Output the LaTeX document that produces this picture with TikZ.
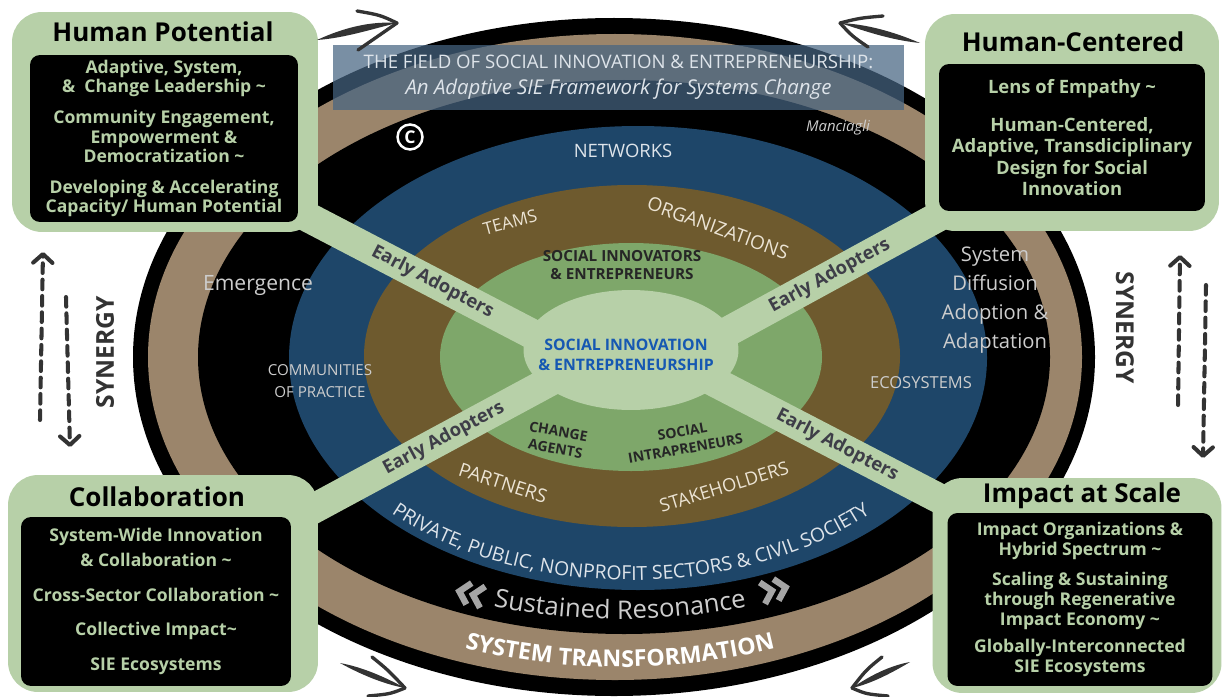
\documentclass[tikz,border=0pt]{standalone}
\usepackage{fontspec}
\setmainfont{Open Sans}
\usetikzlibrary{positioning,shapes.geometric,decorations.text,arrows.meta}

\definecolor{sage}{RGB}{183,208,168}
\definecolor{tanring}{RGB}{155,133,107}
\definecolor{netblue}{RGB}{30,70,105}
\definecolor{orgbrown}{RGB}{110,90,46}
\definecolor{midgreen}{RGB}{126,167,106}
\definecolor{titleblue}{RGB}{70,100,130}
\definecolor{inkgray}{RGB}{51,51,51}
\definecolor{adoptgray}{RGB}{62,62,72}
\definecolor{sieblue}{RGB}{22,88,178}
\definecolor{lighttext}{RGB}{222,228,234}
\definecolor{creamtext}{RGB}{236,228,212}
\definecolor{greytext}{RGB}{205,205,205}
\definecolor{chevron}{RGB}{165,165,165}

\tikzset{
  outerbox/.style={fill=sage, rounded corners=0.6cm, inner sep=0pt},
  innerbox/.style={fill=black, rounded corners=0.2cm, inner sep=0pt, align=center,
    text=sage, font=\fontsize{10}{11}\selectfont\bfseries},
  boxtitle/.style={font=\fontsize{14.8}{17}\selectfont\bfseries, text=black},
  ringlabel/.style={font=\fontsize{10.8}{12}\selectfont, text=creamtext},
  innerlabel/.style={font=\fontsize{8.7}{10.4}\selectfont\bfseries, text=black!85, align=center},
  adoptbar/.style={draw=sage, line width=0.6cm},
  adopters/.style={font=\fontsize{10.5}{12}\selectfont\bfseries, text=adoptgray, sloped},
  synergy/.style={font=\fontsize{14}{16}\selectfont\bfseries, text=inkgray},
  dasharrow/.style={draw=inkgray, line width=2.3pt, dash pattern=on 5.5pt off 3.8pt,
    line cap=round, -{Straight Barb[length=5pt,width=11pt,line width=2.3pt,round]}},
  brushbarb/.style={draw=inkgray, line width=1.9pt, line cap=round},
  chevronline/.style={draw=chevron, line width=3.6pt, line join=miter},
}

\begin{document}
\begin{tikzpicture}[x=0.02cm, y=-0.02cm]
\fill[white] (0,0) rectangle (1223,696);
\useasboundingbox (0,0) rectangle (1223,696);

% rings
\fill[black] (614,357) ellipse [x radius=481, y radius=339];
\fill[tanring] (615,357) ellipse [x radius=467, y radius=323];
\fill[black] (624,357) ellipse [x radius=426, y radius=277];
\fill[netblue] (638,358) ellipse [x radius=349, y radius=232];
\fill[orgbrown] (632,356) ellipse [x radius=268, y radius=171];
\fill[midgreen] (631,357) ellipse [x radius=191, y radius=114];

% early adopter bars
\coordinate (upHub) at (630,385);
\coordinate (lowHub) at (630,338);
\coordinate (hpDock) at (250,187);
\coordinate (hcDock) at (1000,183);
\coordinate (collabDock) at (250,543);
\coordinate (impactDock) at (1000,530);
\draw[adoptbar] (hpDock) -- (upHub) node[adopters, pos=0.48] {Early Adopters};
\draw[adoptbar] (hcDock) -- (upHub) node[adopters, pos=0.46] {Early Adopters};
\draw[adoptbar] (collabDock) -- (lowHub) node[adopters, pos=0.51] {Early Adopters};
\draw[adoptbar] (impactDock) -- (lowHub) node[adopters, pos=0.44] {Early Adopters};

\node[ellipse, fill=sage, inner sep=0pt, minimum width=4.3cm, minimum height=2.4cm] (sie) at (631,350) {};
\node[font=\fontsize{9}{11}\selectfont\bfseries, text=sieblue, align=center] (sieText) at (626,355)
  {SOCIAL INNOVATION\\\& ENTREPRENEURSHIP};

% ring labels
\node[ringlabel, text=lighttext, font=\fontsize{10.5}{12}\selectfont] (networks) at (623,151) {NETWORKS};
\node[ringlabel, rotate=15, font=\fontsize{9.8}{11}\selectfont] (teams) at (510,222) {TEAMS};
\node[ringlabel, rotate=-20] (orgs) at (718,228) {ORGANIZATIONS};
\node[ringlabel, rotate=-18] (partners) at (503,483) {PARTNERS};
\node[ringlabel, rotate=17, font=\fontsize{10.4}{12}\selectfont] (stake) at (724,487) {STAKEHOLDERS};
\node[ringlabel, text=greytext, font=\fontsize{8.6}{12.5}\selectfont, align=center] (cop) at (320,381)
  {COMMUNITIES\\OF PRACTICE};
\node[ringlabel, text=greytext, font=\fontsize{9.4}{10}\selectfont] (eco) at (921,383) {ECOSYSTEMS};
\node[ringlabel, text=greytext, font=\fontsize{12}{14}\selectfont] (emerge) at (258,286) {Emergence};
\node[ringlabel, text=greytext, font=\fontsize{11.5}{16.4}\selectfont, align=center] (diffusion) at (995,300)
  {System\\Diffusion\\Adoption \&\\Adaptation};
\node[innerlabel] (sieRing) at (622,265) {SOCIAL INNOVATORS\\\& ENTREPRENEURS};
\node[innerlabel, rotate=-10, font=\fontsize{8}{10}\selectfont\bfseries] (agents) at (557,440) {CHANGE\\AGENTS};
\node[innerlabel, rotate=10, font=\fontsize{8}{10}\selectfont\bfseries] (intra) at (684,440) {SOCIAL\\INTRAPRENEURS};

% curved texts
\path[decorate, decoration={text along path, text align=center,
  text={|\fontsize{11}{13}\selectfont\color{lighttext}|PRIVATE, PUBLIC, NONPROFIT SECTORS {\&} CIVIL SOCIETY}}]
  (631,358) ++(168:335 and 222) arc[start angle=168, end angle=12, x radius=335, y radius=222];
\path[decorate, decoration={text along path, text align=center,
  text={|\fontsize{14.6}{16}\selectfont\color{greytext}|Sustained Resonance}}]
  (620,357) ++(135:420 and 262) arc[start angle=135, end angle=45, x radius=420, y radius=262];
\path[decorate, decoration={text along path, text align=center,
  text={|\fontsize{13.2}{15}\selectfont\bfseries\color{white}|SYSTEM TRANSFORMATION}}]
  (620,357) ++(135:452 and 310) arc[start angle=135, end angle=45, x radius=452, y radius=310];

% resonance chevrons
\begin{scope}[shift={(470,594)}, rotate=-14]
  \draw[chevronline] (-1,-11) -- (-11,0) -- (-1,11);
  \draw[chevronline] (13,-11) -- (3,0) -- (13,11);
\end{scope}
\begin{scope}[shift={(775,590)}, rotate=14]
  \draw[chevronline] (-13,-11) -- (-3,0) -- (-13,11);
  \draw[chevronline] (1,-11) -- (11,0) -- (1,11);
\end{scope}

% title
\node[fill=titleblue, fill opacity=0.72, text opacity=1, minimum width=11.42cm, minimum height=1.3cm,
  text=lighttext, align=center, font=\fontsize{10.6}{14.7}\selectfont] (title) at (618.5,77.5)
  {THE FIELD OF SOCIAL INNOVATION \& ENTREPRENEURSHIP:\\\textit{\fontsize{11.6}{14.7}\selectfont An Adaptive SIE Framework for Systems Change}};
\node[circle, draw=white, line width=1.4pt, text=white, inner sep=0pt, minimum size=0.5cm,
  font=\fontsize{10}{10}\selectfont\bfseries] (copy) at (410,137) {C};
\node[text=greytext, font=\fontsize{8.5}{10}\selectfont\itshape] (author) at (838,128) {Manciagli};

% corner boxes
\node[outerbox, minimum width=6.12cm, minimum height=4.4cm] (hp) at (165,122) {};
\node[boxtitle] (hpTitle) at (163,32) {Human Potential};
\node[innerbox, minimum width=5.36cm, minimum height=3.34cm] (hpIn) at (164,138.5)
  {Adaptive, System,\\\&\ \ Change Leadership \textasciitilde\\[6.5pt]
   Community Engagement,\\Empowerment \&\\Democratization \textasciitilde\\[6.5pt]
   Developing \& Accelerating\\Capacity/ Human Potential};

\node[outerbox, minimum width=5.88cm, minimum height=4.34cm] (hc) at (1072,122.5) {};
\node[boxtitle] (hcTitle) at (1073,42) {Human-Centered};
\node[innerbox, minimum width=5.32cm, minimum height=2.94cm, font=\fontsize{10.5}{12.2}\selectfont\bfseries] (hcIn) at (1072,137.5)
  {Lens of Empathy \textasciitilde\\[9.5pt]
   Human-Centered,\\Adaptive, Transdiciplinary\\Design for Social\\Innovation};

\node[outerbox, minimum width=6.2cm, minimum height=4.34cm] (collab) at (163,583.5) {};
\node[boxtitle] (collabTitle) at (157,497) {Collaboration};
\node[innerbox, minimum width=5.4cm, minimum height=3.38cm, font=\fontsize{10}{14.2}\selectfont\bfseries] (collabIn) at (156,601.5)
  {System-Wide Innovation\\\& Collaboration \textasciitilde\\[5.5pt]
   Cross-Sector Collaboration \textasciitilde\\[5.5pt]
   Collective Impact\textasciitilde\\[5.5pt]
   SIE Ecosystems};

\node[outerbox, minimum width=5.78cm, minimum height=4.3cm] (impact) at (1077,585.5) {};
\node[boxtitle] (impactTitle) at (1082,496) {Impact at Scale};
\node[innerbox, minimum width=5.3cm, minimum height=3.46cm, font=\fontsize{10}{11.3}\selectfont\bfseries] (impactIn) at (1080,599.5)
  {Impact Organizations \&\\Hybrid Spectrum \textasciitilde\\[6pt]
   Scaling \& Sustaining\\through Regenerative\\Impact Economy \textasciitilde\\[4pt]
   Globally-Interconnected\\SIE Ecosystems};

% synergy
\node[synergy, rotate=90] (synL) at (105,352) {SYNERGY};
\node[synergy, rotate=-90] (synR) at (1125,328) {SYNERGY};
\coordinate (synLa) at (40,420);  \coordinate (synLb) at (43,252);
\coordinate (synLc) at (66,297);  \coordinate (synLd) at (70,447);
\coordinate (synRa) at (1178,405); \coordinate (synRb) at (1180,255);
\coordinate (synRc) at (1206,285); \coordinate (synRd) at (1203,458);
\draw[dasharrow] (synLa) -- (synLb);
\draw[dasharrow] (synLc) -- (synLd);
\draw[dasharrow] (synRa) -- (synRb);
\draw[dasharrow] (synRc) -- (synRd);

% brush arrows
\coordinate (tlTail) at (317,40);  \coordinate (tlTip) at (397,23);
\fill[inkgray] (tlTail) .. controls (345,27) and (372,21) .. (tlTip) .. controls (372,29) and (345,38) .. (tlTail);
\draw[brushbarb] (tlTip) .. controls (380,15) .. (357,11);
\draw[brushbarb] (tlTip) .. controls (378,36) .. (358,50);
\coordinate (trTail) at (920,43);  \coordinate (trTip) at (840,23);
\fill[inkgray] (trTail) .. controls (892,31) and (865,24) .. (trTip) .. controls (865,31) and (890,40) .. (trTail);
\draw[brushbarb] (trTip) .. controls (860,18) .. (883,16);
\draw[brushbarb] (trTip) .. controls (852,36) .. (868,47);
\coordinate (blTail) at (340,663); \coordinate (blTip) at (405,688);
\fill[inkgray] (blTail) .. controls (362,667) and (385,677) .. (blTip) .. controls (383,684) and (360,674) .. (blTail);
\draw[brushbarb] (blTip) .. controls (388,670) .. (372,657);
\draw[brushbarb] (blTip) .. controls (390,694) .. (368,696);
\coordinate (brTail) at (910,662); \coordinate (brTip) at (852,688);
\fill[inkgray] (brTail) .. controls (888,666) and (868,677) .. (brTip) .. controls (870,684) and (890,674) .. (brTail);
\draw[brushbarb] (brTip) .. controls (866,670) .. (882,657);
\draw[brushbarb] (brTip) .. controls (866,694) .. (888,696);
\end{tikzpicture}
\end{document}
